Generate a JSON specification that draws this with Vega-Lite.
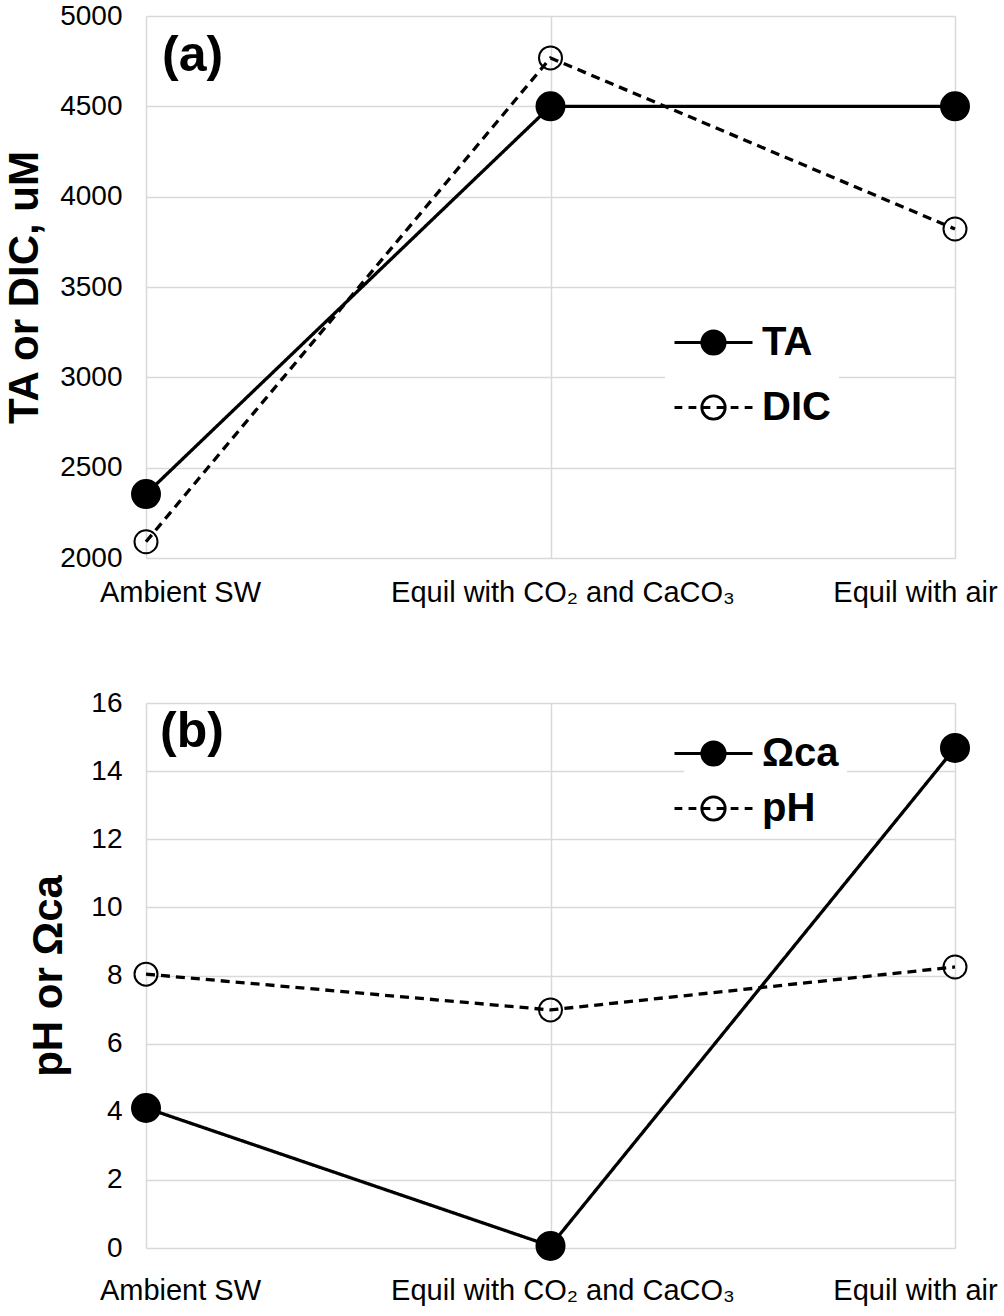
{
  "$schema": "https://vega.github.io/schema/vega-lite/v6.json",
  "background": "white",
  "padding": {"left": 3, "top": 2, "right": 5, "bottom": 5},
  "config": {
    "font": "Liberation Sans",
    "view": {"stroke": null},
    "axis": {
      "grid": true, "gridColor": "#d9d9d9", "gridWidth": 1.5,
      "domain": false, "ticks": false,
      "labelColor": "black", "titleColor": "black",
      "labelFont": "Liberation Sans", "titleFont": "Liberation Sans"
    }
  },
  "datasets": {
    "a": [
      {"cat": "Ambient SW", "series": "TA", "value": 2354},
      {"cat": "Equil with CO₂ and CaCO₃", "series": "TA", "value": 4500},
      {"cat": "Equil with air", "series": "TA", "value": 4500},
      {"cat": "Ambient SW", "series": "DIC", "value": 2090},
      {"cat": "Equil with CO₂ and CaCO₃", "series": "DIC", "value": 4768},
      {"cat": "Equil with air", "series": "DIC", "value": 3821}
    ],
    "b": [
      {"cat": "Ambient SW", "series": "Ωca", "value": 4.11},
      {"cat": "Equil with CO₂ and CaCO₃", "series": "Ωca", "value": 0.06},
      {"cat": "Equil with air", "series": "Ωca", "value": 14.68},
      {"cat": "Ambient SW", "series": "pH", "value": 8.04},
      {"cat": "Equil with CO₂ and CaCO₃", "series": "pH", "value": 6.99},
      {"cat": "Equil with air", "series": "pH", "value": 8.25}
    ]
  },
  "spacing": 82,
  "resolve": {
    "scale": {"strokeDash": "independent", "fill": "independent", "size": "independent"},
    "legend": {"fill": "independent"}
  },
  "vconcat": [
    {
      "width": 809,
      "height": 542,
      "layer": [
        {
          "data": {"name": "a"},
          "mark": {"type": "line", "color": "black", "strokeWidth": 3.3},
          "encoding": {
            "x": {
              "field": "cat", "type": "nominal",
              "scale": {"type": "point", "padding": 0, "domain": ["Ambient SW", "Equil with CO₂ and CaCO₃", "Equil with air"]},
              "axis": {
                "title": null, "labelAngle": 0, "labelFontSize": 29, "labelPadding": 20,
                "labelLimit": 0, "labelOverlap": false, "labelBound": false,
                "labelOffset": {"expr": "datum.value === 'Ambient SW' ? 34 : datum.value === 'Equil with air' ? -40 : 12"}
              }
            },
            "y": {
              "field": "value", "type": "quantitative",
              "scale": {"domain": [2000, 5000], "nice": false, "zero": false},
              "axis": {
                "values": [2000, 2500, 3000, 3500, 4000, 4500, 5000], "format": "d",
                "title": "TA or DIC, uM", "titleFontSize": 42, "titleFontWeight": "bold",
                "titlePadding": 13, "labelFontSize": 28, "labelPadding": 24
              }
            },
            "strokeDash": {
              "field": "series", "type": "nominal",
              "scale": {"domain": ["TA", "DIC"], "range": [[1, 0], [9, 6]]},
              "legend": null
            }
          }
        },
        {
          "data": {"name": "a"},
          "mark": {"type": "point", "filled": true, "stroke": "black", "strokeWidth": 2, "shape": "circle", "opacity": 1},
          "encoding": {
            "x": {"field": "cat", "type": "nominal", "scale": {"type": "point", "padding": 0, "domain": ["Ambient SW", "Equil with CO₂ and CaCO₃", "Equil with air"]}},
            "y": {"field": "value", "type": "quantitative", "scale": {"domain": [2000, 5000], "nice": false, "zero": false}},
            "fill": {
              "field": "series", "type": "nominal", "sort": "descending",
              "scale": {"range": ["black", "transparent"]},
              "legend": {
                "orient": "none", "legendX": 519, "legendY": 278, "title": null,
                "symbolType": {"expr": "datum.value === 'TA' ? 'M-1,0H1M-0.3,0A0.3,0.3,0,1,1,0.3,0A0.3,0.3,0,1,1,-0.3,0' : 'M-1,0H-0.8M-0.64,0H-0.44M-0.28,0H-0.08M0.08,0H0.28M0.44,0H0.64M0.8,0H1M-0.3,0A0.3,0.3,0,1,1,0.3,0A0.3,0.3,0,1,1,-0.3,0'"},
                "symbolSize": 6084,
                "symbolStrokeWidth": 2.8, "symbolStrokeColor": "black",
                "labelFontSize": 40, "labelFontWeight": "bold", "labelColor": "black",
                "labelOffset": 8, "rowPadding": 4, "padding": 8, "fillColor": "white"
              }
            },
            "size": {
              "field": "series", "type": "nominal",
              "scale": {"domain": ["TA", "DIC"], "range": [784, 529]},
              "legend": null
            }
          }
        },
        {
          "data": {"values": [{"label": "(a)"}]},
          "mark": {"type": "text", "align": "left", "baseline": "middle", "dx": 16, "fontSize": 50, "fontWeight": "bold", "color": "black"},
          "encoding": {
            "x": {"datum": "Ambient SW", "type": "nominal", "scale": {"type": "point", "padding": 0, "domain": ["Ambient SW", "Equil with CO₂ and CaCO₃", "Equil with air"]}},
            "y": {"datum": 4780, "type": "quantitative", "scale": {"domain": [2000, 5000], "nice": false, "zero": false}},
            "text": {"field": "label"}
          }
        }
      ]
    },
    {
      "width": 809,
      "height": 545,
      "layer": [
        {
          "data": {"name": "b"},
          "mark": {"type": "line", "color": "black", "strokeWidth": 3.3},
          "encoding": {
            "x": {
              "field": "cat", "type": "nominal",
              "scale": {"type": "point", "padding": 0, "domain": ["Ambient SW", "Equil with CO₂ and CaCO₃", "Equil with air"]},
              "axis": {
                "title": null, "labelAngle": 0, "labelFontSize": 29, "labelPadding": 28,
                "labelLimit": 0, "labelOverlap": false, "labelBound": false,
                "labelOffset": {"expr": "datum.value === 'Ambient SW' ? 34 : datum.value === 'Equil with air' ? -40 : 12"}
              }
            },
            "y": {
              "field": "value", "type": "quantitative",
              "scale": {"domain": [0, 16], "nice": false, "zero": false},
              "axis": {
                "values": [0, 2, 4, 6, 8, 10, 12, 14, 16], "format": "d",
                "title": "pH or Ωca", "titleFontSize": 42, "titleFontWeight": "bold",
                "titlePadding": 20, "labelFontSize": 28, "labelPadding": 24
              }
            },
            "strokeDash": {
              "field": "series", "type": "nominal",
              "scale": {"domain": ["Ωca", "pH"], "range": [[1, 0], [9, 6]]},
              "legend": null
            }
          }
        },
        {
          "data": {"name": "b"},
          "mark": {"type": "point", "filled": true, "stroke": "black", "strokeWidth": 2, "shape": "circle", "opacity": 1},
          "encoding": {
            "x": {"field": "cat", "type": "nominal", "scale": {"type": "point", "padding": 0, "domain": ["Ambient SW", "Equil with CO₂ and CaCO₃", "Equil with air"]}},
            "y": {"field": "value", "type": "quantitative", "scale": {"domain": [0, 16], "nice": false, "zero": false}},
            "fill": {
              "field": "series", "type": "nominal", "sort": "descending",
              "scale": {"range": ["black", "transparent"]},
              "legend": {
                "orient": "none", "legendX": 538, "legendY": 21, "title": null,
                "symbolType": {"expr": "datum.value === 'Ωca' ? 'M-1.95,0H1.95M-0.585,0A0.585,0.585,0,1,1,0.585,0A0.585,0.585,0,1,1,-0.585,0' : 'M-1.95,0H-1.56M-1.248,0H-0.858M-0.546,0H-0.156M0.156,0H0.546M0.858,0H1.248M1.56,0H1.95M-0.585,0A0.585,0.585,0,1,1,0.585,0A0.585,0.585,0,1,1,-0.585,0'"},
                "symbolSize": 1600,
                "symbolStrokeWidth": 2.8, "symbolStrokeColor": "black",
                "labelFontSize": 40, "labelFontWeight": "bold", "labelColor": "black",
                "labelOffset": 27, "rowPadding": 13, "padding": 8, "fillColor": "white"
              }
            },
            "size": {
              "field": "series", "type": "nominal",
              "scale": {"domain": ["Ωca", "pH"], "range": [784, 529]},
              "legend": null
            }
          }
        },
        {
          "data": {"values": [{"label": "(b)"}]},
          "mark": {"type": "text", "align": "left", "baseline": "middle", "dx": 14, "fontSize": 50, "fontWeight": "bold", "color": "black"},
          "encoding": {
            "x": {"datum": "Ambient SW", "type": "nominal", "scale": {"type": "point", "padding": 0, "domain": ["Ambient SW", "Equil with CO₂ and CaCO₃", "Equil with air"]}},
            "y": {"datum": 15.15, "type": "quantitative", "scale": {"domain": [0, 16], "nice": false, "zero": false}},
            "text": {"field": "label"}
          }
        }
      ]
    }
  ]
}
